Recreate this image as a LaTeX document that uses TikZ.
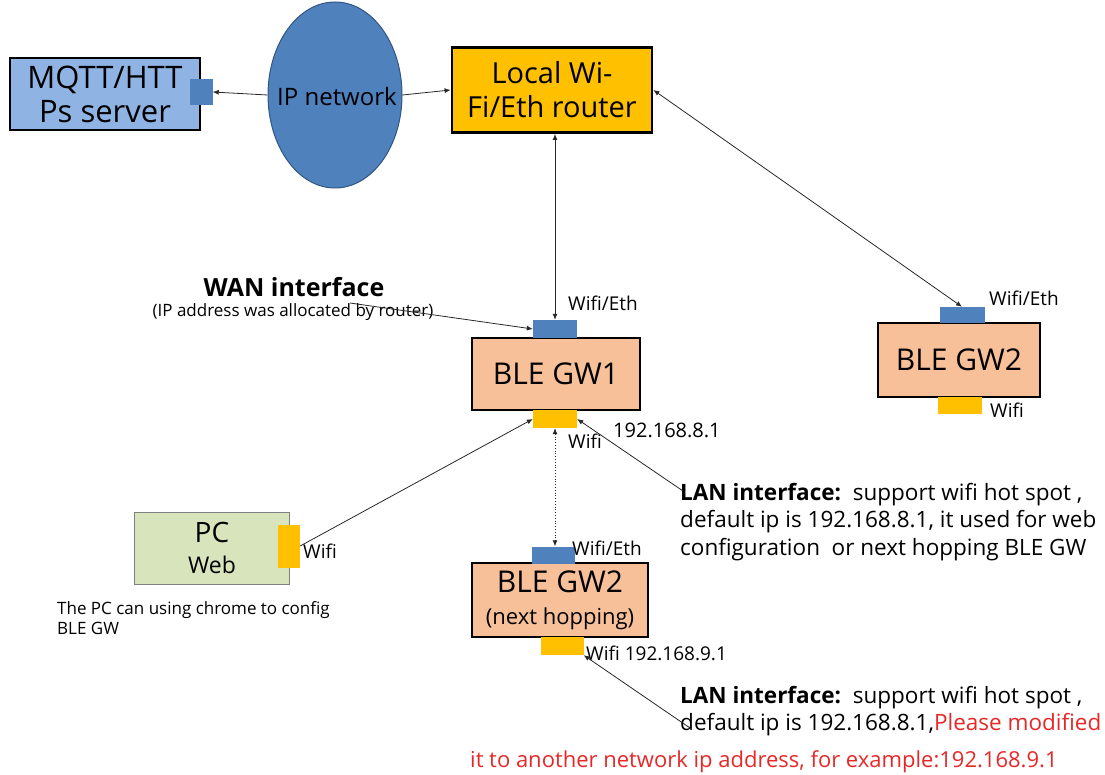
\documentclass[tikz,border=0pt]{standalone}
\usepackage{fontspec}
\setmainfont{Open Sans}
\usetikzlibrary{shapes.geometric,arrows.meta}
\definecolor{srvblue}{RGB}{143,180,227}
\definecolor{portblue}{RGB}{79,129,189}
\definecolor{ellblue}{RGB}{79,129,189}
\definecolor{ellline}{RGB}{50,85,130}
\definecolor{routeryel}{RGB}{255,192,0}
\definecolor{gwpeach}{RGB}{248,192,152}
\definecolor{pcgreen}{RGB}{216,228,188}
\definecolor{redtxt}{RGB}{230,40,40}
\definecolor{linegray}{RGB}{40,40,40}
\newcommand{\fs}[2]{\fontsize{#1}{#2}\selectfont}
\tikzset{
  box/.style={draw=black, line width=2.8pt, rectangle, inner sep=0pt, align=center},
  bport/.style={fill=portblue, rectangle, inner sep=0pt},
  yport/.style={fill=routeryel, rectangle, inner sep=0pt},
  arr/.style={draw=linegray, line width=0.8pt, -{Latex[length=6pt,width=5pt]}},
  darr/.style={draw=linegray, line width=0.8pt, {Latex[length=6pt,width=5pt]}-{Latex[length=6pt,width=5pt]}},
  lbl/.style={inner sep=0pt, anchor=west},
}
\begin{document}
\begin{tikzpicture}[x=1pt,y=-1pt]
\useasboundingbox (0,0) rectangle (1105,775);
% main boxes
\node[box, fill=srvblue, minimum width=190pt, minimum height=72pt, font=\fs{31}{34}] (mqtt) at (105,94) {MQTT/HTT\\Ps server};
\node[ellipse, draw=ellline, line width=1pt, fill=ellblue, minimum width=134pt, minimum height=186pt, inner sep=0pt] (ipnet) at (335,95) {};
\node[box, fill=routeryel, minimum width=200pt, minimum height=85pt, font=\fs{29}{34}] (router) at (552,90) {Local Wi-\\Fi/Eth router};
\node[box, fill=gwpeach, minimum width=168pt, minimum height=72pt, font=\fs{30}{34}] (gw1) at (556,374) {BLE GW1};
\node[box, fill=gwpeach, minimum width=162pt, minimum height=74pt, font=\fs{30}{34}] (gw2) at (959,360) {BLE GW2};
\node[rectangle, draw=gray, line width=1pt, fill=pcgreen, minimum width=155pt, minimum height=72pt, inner sep=0pt, align=center, font=\fs{28}{31}] (pc) at (212,548) {PC\\{\fs{23}{31}Web}};
\node[box, fill=gwpeach, minimum width=176pt, minimum height=74pt, font=\fs{30}{32}] (gwn) at (560,600) {BLE GW2\\{\fs{22}{32}(next hopping)}};
% ports
\node[bport, minimum width=23pt, minimum height=26pt] (mqttport) at (201,92) {};
\node[bport, minimum width=44pt, minimum height=18pt] (gw1top) at (555,329) {};
\node[yport, minimum width=44pt, minimum height=18pt] (gw1bot) at (555,419) {};
\node[bport, minimum width=45pt, minimum height=16pt] (gw2top) at (962,315) {};
\node[yport, minimum width=44pt, minimum height=17pt] (gw2bot) at (960,405) {};
\node[yport, minimum width=22pt, minimum height=43pt] (pcport) at (289,546) {};
\node[bport, minimum width=43pt, minimum height=17pt] (gwntop) at (553,555) {};
\node[yport, minimum width=43pt, minimum height=18pt] (gwnbot) at (562,646) {};
% ellipse text
\node[inner sep=0pt, font=\fs{24}{28}] (iptext) at (337,97) {IP network};
% labels
\node[inner sep=0pt, font=\fs{25}{28}\bfseries] (wan) at (294,287) {WAN interface};
\node[inner sep=0pt, font=\fs{17}{20}] (wansub) at (293,312) {(IP address was allocated by router)};
\coordinate (wanfrom) at (350,303);
\node[lbl, font=\fs{19}{22}] (l1) at (568,303) {Wifi/Eth};
\node[lbl, font=\fs{19}{22}] (l2) at (568,441) {Wifi};
\node[lbl, font=\fs{20}{22}] (l3) at (613,430) {192.168.8.1};
\node[lbl, font=\fs{19}{22}] (l4) at (989,298) {Wifi/Eth};
\node[lbl, font=\fs{19}{22}] (l5) at (990,410) {Wifi};
\node[lbl, font=\fs{19}{22}] (l6) at (303,551) {Wifi};
\node[lbl, font=\fs{19}{22}] (l7) at (572,548) {Wifi/Eth};
\node[lbl, font=\fs{19}{22}] (l8) at (586,653) {Wifi 192.168.9.1};
\node[lbl, font=\fs{17}{20}, align=left] (pcnote) at (57,618) {The PC can using chrome to config\\BLE GW};
\node[lbl, font=\fs{22.5}{27.5}, align=left, anchor=north west] (lan1) at (680,483) {\textbf{LAN interface:}\ \ support wifi hot spot ,\\default ip is 192.168.8.1, it used for web\\configuration\ \ or next hopping BLE GW};
\node[lbl, font=\fs{22.5}{27.5}, align=left, anchor=north west] (lan2) at (680,686) {\textbf{LAN interface:}\ \ support wifi hot spot ,\\default ip is 192.168.8.1,\textcolor{redtxt}{Please modified}};
\node[lbl, font=\fs{22}{27}, text=redtxt] (lan3) at (470,762) {it to another network ip address, for example:192.168.9.1};
\coordinate (lan1from) at (683,491);
\coordinate (lan2from) at (690,728);
% connectors
\draw[arr] (ipnet.west) -- (mqttport.east);
\draw[arr] (ipnet.east) -- (router.west);
\draw[darr] (gw1top.north |- router.south) -- (gw1top.north);
\draw[darr] (router.east) -- (gw2top.north);
\draw[arr] (wanfrom) -- (gw1top.west);
\draw[arr] (pcport.east) -- (gw1bot.west);
\draw[arr] (lan1from) -- (gw1bot.east);
\draw[darr, dotted] (gw1bot.south) -- (gwntop.north -| gw1bot.south);
\draw[arr] (lan2from) -- (gwnbot.south east);
\end{tikzpicture}
\end{document}
